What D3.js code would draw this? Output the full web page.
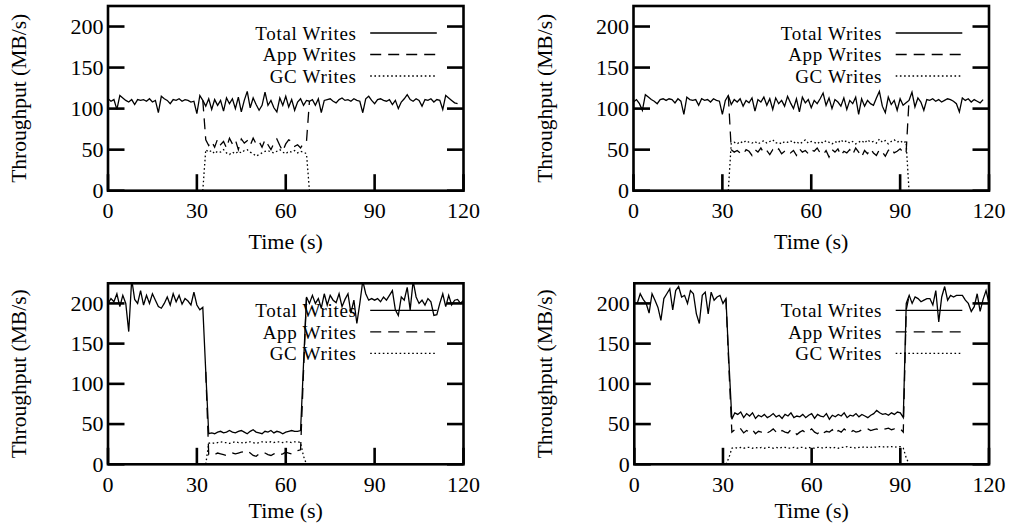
<!DOCTYPE html>
<html>
<head>
<meta charset="utf-8">
<script src="https://cdn.jsdelivr.net/npm/d3@7"></script>
<style>
  body { margin: 0; background: #fff; }
  svg text { font-family: "Liberation Serif", "Times New Roman", serif; font-size: 22px; fill: #000; }
  svg text.ylab { font-size: 21.5px; }
  svg text.leg { font-size: 19px; letter-spacing: 0.7px; }
</style>
</head>
<body>
<div id="chart"></div>
<script>
'use strict';

// axis ticks and legend names
const xTicks = [0, 30, 60, 90, 120];
const yTicks = [0, 50, 100, 150, 200];
const seriesNames = ['Total Writes', 'App Writes', 'GC Writes'];

// ---- panel 1 (top left): one sample per second from t = 0
const total1 = [
    112, 109, 111, 99, 116, 113, 110, 108, 111, 105,
    111, 110, 111, 109, 112, 108, 110, 95, 115, 112,
    110, 106, 111, 110, 112, 109, 111, 110, 108, 109,
    94, 116, 110, 103, 112, 99, 111, 104, 110, 97,
    113, 106, 112, 100, 114, 96, 110, 121, 101, 113,
    105, 98, 104, 120, 104, 110, 101, 96, 113, 104,
    115, 102, 111, 98, 108, 112, 104, 110, 109, 111,
    104, 112, 95, 110, 111, 112, 109, 107, 111, 113,
    110, 111, 109, 112, 110, 109, 95, 112, 115, 110,
    106, 111, 112, 110, 109, 111, 105, 110, 100, 108,
    112, 117, 111, 109, 112, 110, 103, 111, 110, 112,
    108, 111, 110, 99, 116, 113, 110, 107, 106
];
const app1Start = 32;
const app1 = [
    110,
    62, 55, 60, 53, 63, 56, 60, 52, 64, 57,
    62, 50, 63, 58, 61, 55, 64, 57, 60, 53,
    62, 56, 50, 58, 63, 55, 48, 57, 62, 60,
    54, 56, 52, 58, 60,
    109
];
const gc1Start = 32;
const gc1 = [
    0,
    50, 47, 49, 45, 48, 47, 50, 46, 44, 47,
    45, 48, 46, 49, 50, 47, 45, 42, 44, 46,
    48, 49, 47, 46, 48, 50, 47, 45, 48, 47,
    49, 46, 48, 47, 45,
    0
];

// ---- panel 2 (top right)
const total2 = [
    108, 111, 106, 98, 117, 114, 111, 109, 106, 111,
    112, 110, 112, 111, 107, 112, 109, 93, 114, 111,
    110, 111, 104, 112, 110, 111, 108, 112, 110, 109,
    93, 110, 116, 105, 111, 108, 112, 103, 110, 107,
    113, 97, 111, 108, 114, 104, 112, 99, 113, 106,
    110, 103, 115, 107, 100, 112, 96, 114, 107, 111,
    101, 110, 106, 112, 119, 104, 113, 100, 111, 108,
    103, 113, 99, 110, 106, 114, 93, 112, 103, 110,
    106, 104, 113, 121, 103, 95, 114, 105, 110, 98,
    112, 104, 107, 110, 120, 102, 113, 108, 98, 111,
    110, 112, 109, 111, 108, 110, 112, 111, 109, 106,
    96, 113, 110, 112, 108, 111, 109, 107, 111
];
const app2Start = 32;
const app2 = [
    116,
    50, 47, 49, 46, 44, 50, 48, 43, 50, 47,
    52, 46, 49, 44, 50, 47, 51, 45, 48, 50,
    46, 49, 43, 51, 47, 49, 45, 50, 48, 52,
    46, 44, 49, 41, 50, 47, 51, 43, 48, 46,
    50, 44, 52, 47, 41, 49, 45, 51, 46, 43,
    50, 47, 42, 49, 52, 46, 48, 51, 47, 45,
    110
];
const gc2Start = 32;
const gc2 = [
    0,
    58, 59, 57, 60, 58, 61, 59, 58, 60, 57,
    59, 61, 58, 60, 62, 58, 59, 57, 60, 59,
    61, 58, 60, 57, 59, 62, 58, 60, 59, 57,
    60, 58, 61, 59, 57, 60, 58, 62, 59, 61,
    58, 60, 57, 59, 61, 58, 62, 59, 60, 58,
    63, 59, 61, 57, 60, 62, 59, 61, 58, 60,
    0
];

// ---- panel 3 (bottom left)
const total3 = [
    200, 206, 202, 212, 196, 210, 200, 165, 230, 205,
    200, 216, 198, 210, 200, 212, 204, 196, 194, 200,
    208, 198, 212, 202, 210, 199, 206, 203, 198, 214,
    198, 192, 195, 115, 38, 39, 38, 40, 41, 39,
    40, 42, 40, 39, 41, 42, 40, 38, 41, 43,
    40, 39, 38, 41, 40, 42, 39, 41, 40, 38,
    40, 41, 42, 41, 41, 42, 125, 208, 200, 210,
    200, 206, 194, 212, 198, 210, 204, 201, 212, 196,
    205, 212, 188, 204, 175, 200, 228, 212, 204, 206,
    204, 206, 202, 208, 204, 210, 216, 192, 185, 208,
    204, 220, 192, 228, 208, 200, 204, 198, 206, 202,
    185, 186, 200, 212, 196, 210, 198, 204, 205, 200, 204
];
const app3Start = 33;
const app3 = [
    115,
    12, 13, 12, 14, 13, 12, 11, 13, 14, 13,
    14, 15, 16, 17, 14, 11, 10, 13, 15, 14,
    12, 11, 13, 14, 12, 13, 15, 14, 13, 16,
    17, 18,
    115, 208
];
const gc3Start = 33;
const gc3 = [
    0,
    26, 27, 26, 27, 28, 27, 27, 26, 27, 28,
    27, 27, 26, 28, 28, 27, 26, 27, 28, 28,
    27, 28, 27, 28, 28, 27, 28, 28, 27, 28,
    28, 27,
    10, 0
];

// ---- panel 4 (bottom right)
const total4 = [
    200, 200, 212, 205, 200, 188, 212, 204, 195, 179,
    206, 212, 218, 192, 216, 221, 208, 210, 200, 216,
    212, 187, 175, 210, 214, 187, 214, 204, 208, 210,
    200, 206, 128, 56, 64, 62, 65, 58, 63, 60,
    64, 57, 61, 59, 62, 58, 60, 63, 59, 61,
    57, 62, 60, 64, 58, 60, 59, 62, 58, 61,
    63, 57, 62, 60, 59, 63, 56, 61, 59, 62,
    60, 64, 58, 61, 60, 63, 59, 62, 60, 58,
    61, 63, 67, 64, 62, 63, 61, 64, 62, 65,
    64, 58, 200, 210, 200, 208, 206, 202, 204, 206,
    206, 198, 216, 177, 208, 221, 204, 210, 208, 210,
    210, 210, 204, 200, 190, 196, 212, 190, 205, 216, 200
];
const app4Start = 31;
const app4 = [
    206, 120, 40,
    43, 41, 44, 39, 42, 40, 43, 38, 41, 40,
    42, 39, 41, 44, 40, 38, 42, 40, 39, 43,
    41, 37, 40, 42, 39, 41, 44, 40, 38, 42,
    39, 41, 40, 43, 38, 42, 40, 44, 41, 39,
    42, 40, 41, 43, 45, 44, 42, 43, 44, 42,
    43, 44, 45, 43, 44, 43, 44,
    40, 192, 210
];
const gc4Start = 31;
const gc4 = [
    0, 8, 20,
    21, 20, 21, 20, 21, 21, 20, 21, 20, 21,
    20, 21, 21, 20, 21, 20, 21, 21, 20, 20,
    21, 20, 21, 21, 20, 21, 20, 20, 21, 21,
    20, 21, 21, 20, 21, 20, 21, 21, 22, 21,
    21, 20, 21, 21, 22, 21, 21, 22, 21, 22,
    22, 21, 22, 22, 21, 22, 22,
    20, 8, 0
];

// Config
const W = 1010;
const H = 531;

const svg = d3.select('#chart')
    .append('svg')
    .attr('width', W)
    .attr('height', H);

// panel frames (pixels of the plot box)
const panels = [
    {left: 108, right: 463.5, top: 6, bottom: 190.7, xLabelY: 249,
        total: total1, app: app1, appStart: app1Start, gc: gc1, gcStart: gc1Start},
    {left: 633.5, right: 989, top: 6, bottom: 190.7, xLabelY: 249,
        total: total2, app: app2, appStart: app2Start, gc: gc2, gcStart: gc2Start},
    {left: 108, right: 463.5, top: 283.3, bottom: 464.3, xLabelY: 518,
        total: total3, app: app3, appStart: app3Start, gc: gc3, gcStart: gc3Start},
    {left: 634.3, right: 989, top: 283.3, bottom: 464.3, xLabelY: 518,
        total: total4, app: app4, appStart: app4Start, gc: gc4, gcStart: gc4Start}
];

const dashes = [null, '11,7', '1.6,2.6'];

panels.forEach((p, pi) => {
    const g = svg.append('g').attr('class', 'panel');

    const xScale = d3.scaleLinear()
        .domain([0, 120])
        .range([p.left, p.right]);

    const yScale = d3.scaleLinear()
        .domain([0, 225])
        .range([p.bottom, p.top]);

    // clip the data to the plot box
    const clipId = `clip${pi}`;
    svg.append('clipPath')
        .attr('id', clipId)
        .append('rect')
        .attr('x', p.left)
        .attr('y', p.top)
        .attr('width', p.right - p.left)
        .attr('height', p.bottom - p.top);

    const lineMaker = (start) => d3.line()
        .x((d, i) => xScale(start + i))
        .y(d => yScale(d));

    const series = [
        {values: p.total, start: 0},
        {values: p.app, start: p.appStart},
        {values: p.gc, start: p.gcStart}
    ];

    const dataG = g.append('g').attr('clip-path', `url(#${clipId})`);
    series.forEach((s, si) => {
        dataG.append('path')
            .attr('d', lineMaker(s.start)(s.values))
            .attr('fill', 'none')
            .attr('stroke', '#000')
            .attr('stroke-width', 1.3)
            .attr('stroke-linejoin', 'miter')
            .attr('stroke-dasharray', dashes[si]);
    });

    // legend (no box, gnuplot style)
    const legendG = g.append('g').attr('class', 'legend');
    const rowY = [27, 48.5, 70];
    seriesNames.forEach((name, si) => {
        const y = p.top + rowY[si];
        legendG.append('text')
            .attr('class', 'leg')
            .attr('x', p.right - 106.8)
            .attr('y', y + 6.8)
            .attr('text-anchor', 'end')
            .text(name);
        legendG.append('line')
            .attr('x1', p.right - 93.3)
            .attr('x2', p.right - 26.7)
            .attr('y1', y)
            .attr('y2', y)
            .attr('stroke', '#000')
            .attr('stroke-width', 1.3)
            .attr('stroke-dasharray', dashes[si]);
    });

    // ticks (inward, y mirrored on the right)
    const tickLen = 16.5;
    const tickG = g.append('g').attr('class', 'ticks');
    yTicks.forEach(v => {
        const y = yScale(v);
        tickG.append('line')
            .attr('x1', p.left).attr('x2', p.left + tickLen)
            .attr('y1', y).attr('y2', y);
        tickG.append('line')
            .attr('x1', p.right - tickLen).attr('x2', p.right)
            .attr('y1', y).attr('y2', y);
        g.append('text')
            .attr('x', p.left - 4.5)
            .attr('y', y + 7.2)
            .attr('text-anchor', 'end')
            .text(v);
    });
    xTicks.forEach(v => {
        const x = xScale(v);
        tickG.append('line')
            .attr('x1', x).attr('x2', x)
            .attr('y1', p.bottom).attr('y2', p.bottom - tickLen);
        g.append('text')
            .attr('x', x)
            .attr('y', p.bottom + 27.5)
            .attr('text-anchor', 'middle')
            .text(v);
    });
    tickG.selectAll('line')
        .attr('stroke', '#000')
        .attr('stroke-width', 2.6);

    // border
    g.append('rect')
        .attr('x', p.left)
        .attr('y', p.top)
        .attr('width', p.right - p.left)
        .attr('height', p.bottom - p.top)
        .attr('fill', 'none')
        .attr('stroke', '#000')
        .attr('stroke-width', 2.6);

    // axis titles
    g.append('text')
        .attr('x', (p.left + p.right) / 2)
        .attr('y', p.xLabelY)
        .attr('text-anchor', 'middle')
        .text('Time (s)');

    g.append('text')
        .attr('class', 'ylab')
        .attr('transform', `translate(${p.left - 82}, ${(p.top + p.bottom) / 2}) rotate(-90)`)
        .attr('text-anchor', 'middle')
        .text('Throughput (MB/s)');
});
</script>
</body>
</html>
